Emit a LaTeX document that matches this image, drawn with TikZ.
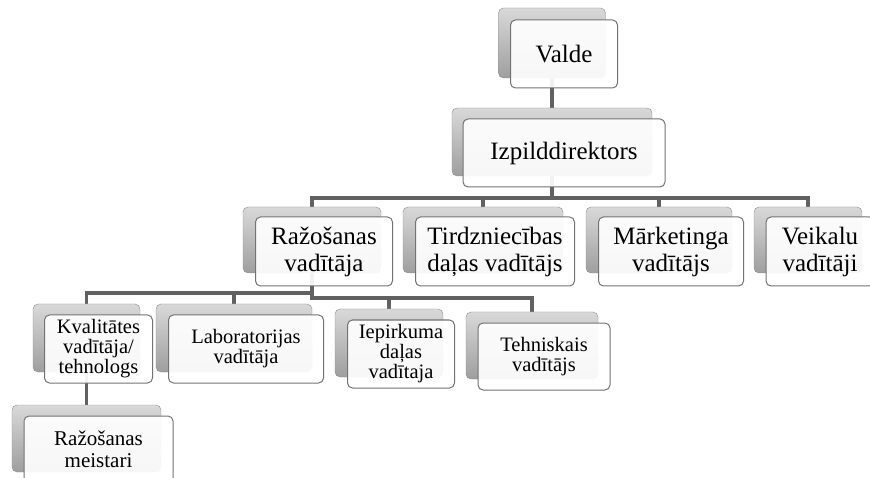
\documentclass[tikz,border=0pt]{standalone}
\usepackage{fontspec}
\setmainfont{Liberation Serif}
\usetikzlibrary{calc,backgrounds}

\tikzset{
	backbox/.style={draw=black!45, rounded corners=5pt, top color=black!15, bottom color=black!38, inner sep=0pt},
	frontbox/.style={draw=black!55, line width=1pt, rounded corners=5pt, fill=white, fill opacity=0.92, text opacity=1, align=center, inner sep=0pt},
	conn/.style={draw=black!62, line width=3.5pt},
	big/.style={font=\fontsize{25}{27}\selectfont},
	small/.style={font=\fontsize{20.5}{20}\selectfont},
}

\begin{document}
\begin{tikzpicture}[x=1pt,y=-1pt]

	\useasboundingbox (0,0) rectangle (870,478);

	% top
	\node[backbox, minimum width=107pt, minimum height=70pt] (valdeB) at (552,43) {};
	\node[frontbox, big, minimum width=107pt, minimum height=68pt] (valde) at ($(valdeB)+(12,11)$) {Valde};

	\node[backbox, minimum width=200pt, minimum height=68pt] (izpB) at (552,142) {};
	\node[frontbox, big, minimum width=202pt, minimum height=68pt] (izp) at ($(izpB)+(12,11)$) {Izpilddirektors};

	% second row
	\node[backbox, minimum width=138pt, minimum height=66pt] (razB) at (312,240) {};
	\node[frontbox, big, minimum width=137pt, minimum height=69pt] (raz) at ($(razB)+(12,11.5)$) {Ražošanas\\vadītāja};

	\node[backbox, minimum width=160pt, minimum height=66pt] (tirdzB) at (483,240) {};
	\node[frontbox, big, minimum width=159pt, minimum height=69pt] (tirdz) at ($(tirdzB)+(12,11.5)$) {Tirdzniecības\\daļas vadītājs};

	\node[backbox, minimum width=146pt, minimum height=66pt] (markB) at (659,240) {};
	\node[frontbox, big, minimum width=145pt, minimum height=69pt] (mark) at ($(markB)+(12,11.5)$) {Mārketinga\\vadītājs};

	\node[backbox, minimum width=108pt, minimum height=66pt] (veikB) at (808,240) {};
	\node[frontbox, big, minimum width=108pt, minimum height=69pt] (veik) at ($(veikB)+(12,11.5)$) {Veikalu\\vadītāji};

	% third row
	\node[backbox, minimum width=107pt, minimum height=68pt] (kvalB) at (86.5,338) {};
	\node[frontbox, small, minimum width=108pt, minimum height=68pt] (kval) at ($(kvalB)+(12,11)$) {Kvalitātes\\vadītāja/\\tehnologs};

	\node[backbox, minimum width=156pt, minimum height=68pt] (labB) at (234,338) {};
	\node[frontbox, small, minimum width=155pt, minimum height=68pt] (lab) at ($(labB)+(12,11)$) {Laboratorijas\\vadītāja};

	\node[backbox, minimum width=108pt, minimum height=68pt] (iepB) at (389,343) {};
	\node[frontbox, small, minimum width=107pt, minimum height=68pt] (iep) at ($(iepB)+(12,11)$) {Iepirkuma\\daļas\\vadītaja};

	\node[backbox, minimum width=132pt, minimum height=67pt] (tehB) at (532,345.5) {};
	\node[frontbox, small, minimum width=132pt, minimum height=67pt] (teh) at ($(tehB)+(12,11)$) {Tehniskais\\vadītājs};

	% bottom
	\node[backbox, minimum width=149pt, minimum height=67pt] (meistB) at (86.5,438.5) {};
	\node[frontbox, font=\fontsize{21}{22}\selectfont, minimum width=149pt, minimum height=67pt] (meist) at ($(meistB)+(12,11)$) {Ražošanas\\meistari};

	% connectors
	\begin{scope}[on background layer]
		\draw[conn] (valdeB.south) -- (izpB.north);
		\draw[conn] (izpB.south) -- ++(0,22) -| (razB.north);
		\draw[conn] (izpB.south) -- ++(0,22) -| (tirdzB.north);
		\draw[conn] (izpB.south) -- ++(0,22) -| (markB.north);
		\draw[conn] (izpB.south) -- ++(0,22) -| (veikB.north);
		\draw[conn] (razB.south) -- ++(0,20) -| (kvalB.north);
		\draw[conn] (razB.south) -- ++(0,20) -| (labB.north);
		\draw[conn] (razB.south) -- ++(0,25) -| (iepB.north);
		\draw[conn] (razB.south) -- ++(0,25) -| (tehB.north);
		\draw[conn] (kvalB.south) -- (meistB.north);
	\end{scope}

\end{tikzpicture}
\end{document}
